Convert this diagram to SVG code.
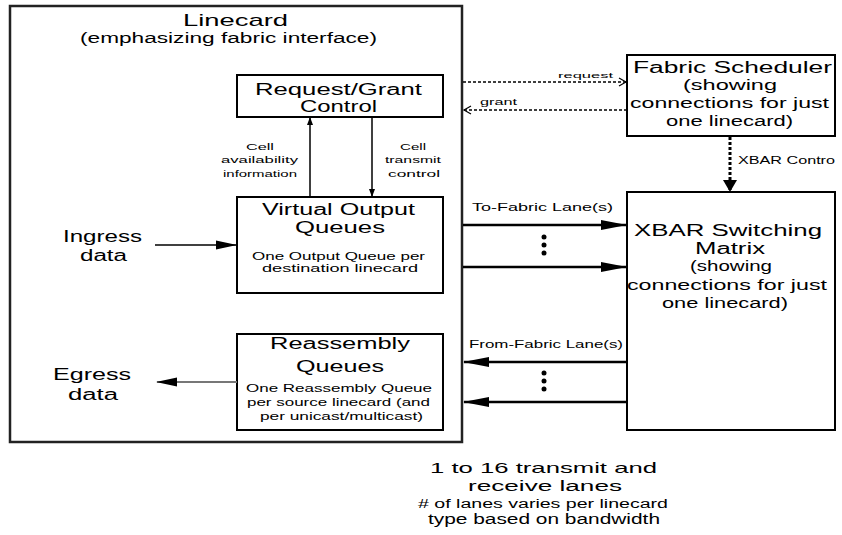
<svg xmlns="http://www.w3.org/2000/svg" width="842" height="535" viewBox="0 0 842 535">
<style>
text{font-family:"Liberation Sans",Arial,sans-serif;fill:#000}
.box{fill:#fff;stroke:#000;stroke-width:2}
.t{font-size:16px}
.s{font-size:14px}
.sm{font-size:10px}
.lbl{font-size:9px}
.ln{stroke:#000;stroke-width:1.5;fill:none}
.dash{stroke:#000;stroke-width:1.5;fill:none;stroke-dasharray:3,2}
.thick{stroke:#000;stroke-width:2.5;fill:none}
</style>
<defs>
<marker id="ah" markerWidth="8" markerHeight="8" refX="7" refY="4" orient="auto" markerUnits="userSpaceOnUse"><path d="M0,1L8,4L0,7z" fill="#000"/></marker>
<marker id="mid" markerWidth="21" markerHeight="10" refX="20" refY="5" orient="auto" markerUnits="userSpaceOnUse"><path d="M0,0.5L21,5L0,9.5z" fill="#000"/></marker>
<marker id="big" markerWidth="26" markerHeight="11" refX="25" refY="5.5" orient="auto" markerUnits="userSpaceOnUse"><path d="M0,0.5L26,5.5L0,10.5z" fill="#000"/></marker>
<marker id="tri" markerWidth="12" markerHeight="14" refX="11" refY="7" orient="auto" markerUnits="userSpaceOnUse"><path d="M0,0L12,7L0,14z" fill="#000"/></marker>
<marker id="open" markerWidth="10" markerHeight="10" refX="8" refY="5" orient="auto" markerUnits="userSpaceOnUse"><path d="M1,1L8,5L1,9" fill="none" stroke="#000" stroke-width="1.2"/></marker>
</defs>
<rect width="842" height="535" fill="#fff"/>
<g id="linecard">
<rect x="10" y="6" width="452" height="436" fill="#fff" stroke="#222" stroke-width="2.5"/>
<text x="183" y="26" style="font-size:17px" textLength="105" lengthAdjust="spacingAndGlyphs">Linecard</text>
<text x="80" y="43" style="font-size:14px" textLength="297" lengthAdjust="spacingAndGlyphs">(emphasizing fabric interface)</text>
</g>
<g id="rgc">
<rect x="237" y="75" width="206" height="42" class="box"/>
<text x="255" y="95" class="t" textLength="167" lengthAdjust="spacingAndGlyphs">Request/Grant</text>
<text x="300" y="112" class="t" textLength="77" lengthAdjust="spacingAndGlyphs">Control</text>
</g>
<g id="voq">
<rect x="237" y="197" width="206" height="96" class="box"/>
<text x="262" y="215" class="t" textLength="153" lengthAdjust="spacingAndGlyphs">Virtual Output</text>
<text x="295" y="233" class="t" textLength="90" lengthAdjust="spacingAndGlyphs">Queues</text>
<text x="252" y="260" class="sm" textLength="173" lengthAdjust="spacingAndGlyphs">One Output Queue per</text>
<text x="262" y="272" class="sm" textLength="156" lengthAdjust="spacingAndGlyphs">destination linecard</text>
</g>
<g id="rq">
<rect x="237" y="334" width="206" height="96" class="box"/>
<text x="270" y="349" class="t" textLength="140" lengthAdjust="spacingAndGlyphs">Reassembly</text>
<text x="296" y="372" class="t" textLength="88" lengthAdjust="spacingAndGlyphs">Queues</text>
<text x="246" y="392" class="sm" textLength="186" lengthAdjust="spacingAndGlyphs">One Reassembly Queue</text>
<text x="247" y="406" class="sm" textLength="183" lengthAdjust="spacingAndGlyphs">per source linecard (and</text>
<text x="260" y="420" class="sm" textLength="163" lengthAdjust="spacingAndGlyphs">per unicast/multicast)</text>
</g>
<g id="ingress">
<text x="63" y="242" class="t" textLength="79" lengthAdjust="spacingAndGlyphs">Ingress</text>
<text x="80" y="261" class="t" textLength="47" lengthAdjust="spacingAndGlyphs">data</text>
</g>
<g id="egress">
<text x="53" y="380" class="t" textLength="78" lengthAdjust="spacingAndGlyphs">Egress</text>
<text x="68" y="400" class="t" textLength="50" lengthAdjust="spacingAndGlyphs">data</text>
</g>
<g id="scheduler">
<rect x="627" y="55" width="208" height="81" class="box"/>
<text x="633" y="73" class="t" textLength="199" lengthAdjust="spacingAndGlyphs">Fabric Scheduler</text>
<text x="683" y="90" class="s" textLength="94" lengthAdjust="spacingAndGlyphs">(showing</text>
<text x="630" y="108" class="s" textLength="199" lengthAdjust="spacingAndGlyphs">connections for just</text>
<text x="666" y="126" class="s" textLength="127" lengthAdjust="spacingAndGlyphs">one linecard)</text>
</g>
<g id="xbar">
<rect x="627" y="192" width="208" height="238" class="box"/>
<text x="634" y="236" class="t" textLength="188" lengthAdjust="spacingAndGlyphs">XBAR Switching</text>
<text x="695" y="254" class="t" textLength="70" lengthAdjust="spacingAndGlyphs">Matrix</text>
<text x="690" y="271" class="s" textLength="82" lengthAdjust="spacingAndGlyphs">(showing</text>
<text x="627" y="290" class="s" textLength="200" lengthAdjust="spacingAndGlyphs">connections for just</text>
<text x="662" y="308" class="s" textLength="126" lengthAdjust="spacingAndGlyphs">one linecard)</text>
</g>
<g id="note">
<text x="430" y="473" style="font-size:15px" textLength="227" lengthAdjust="spacingAndGlyphs">1 to 16 transmit and</text>
<text x="468" y="491" style="font-size:14px" textLength="154" lengthAdjust="spacingAndGlyphs">receive lanes</text>
<text x="418" y="508" style="font-size:12px" textLength="250" lengthAdjust="spacingAndGlyphs"># of lanes varies per linecard</text>
<text x="428" y="524" style="font-size:14px" textLength="232" lengthAdjust="spacingAndGlyphs">type based on bandwidth</text>
</g>
<g id="connectors">
<line x1="310" y1="197" x2="310" y2="118" class="ln" marker-end="url(#ah)"/>
<line x1="372" y1="117" x2="372" y2="196" class="ln" marker-end="url(#ah)"/>
<text x="246" y="150" class="lbl" textLength="28" lengthAdjust="spacingAndGlyphs">Cell</text>
<text x="221" y="163" class="lbl" textLength="77" lengthAdjust="spacingAndGlyphs">availability</text>
<text x="223" y="177" class="lbl" textLength="74" lengthAdjust="spacingAndGlyphs">information</text>
<text x="400" y="150" class="lbl" textLength="26" lengthAdjust="spacingAndGlyphs">Cell</text>
<text x="385" y="163" class="lbl" textLength="56" lengthAdjust="spacingAndGlyphs">transmit</text>
<text x="388" y="177" class="lbl" textLength="52" lengthAdjust="spacingAndGlyphs">control</text>
<line x1="155" y1="245" x2="236" y2="245" class="ln" marker-end="url(#mid)"/>
<line x1="237" y1="382" x2="157" y2="382" stroke="#777" stroke-width="2" marker-end="url(#mid)"/>
<line x1="463" y1="82" x2="626" y2="82" class="dash" marker-end="url(#open)"/>
<text x="558" y="78" class="lbl" style="font-size:8px" textLength="55" lengthAdjust="spacingAndGlyphs">request</text>
<line x1="627" y1="110" x2="464" y2="110" class="dash" marker-end="url(#open)"/>
<text x="480" y="105" class="lbl" textLength="37" lengthAdjust="spacingAndGlyphs">grant</text>
<line x1="730" y1="137" x2="730" y2="191" stroke="#000" stroke-width="3" stroke-dasharray="3,2" marker-end="url(#tri)"/>
<text x="738" y="164" style="font-size:10px" textLength="97" lengthAdjust="spacingAndGlyphs">XBAR Contro</text>
<line x1="463" y1="225" x2="626" y2="225" class="thick" marker-end="url(#big)"/>
<line x1="463" y1="267" x2="626" y2="267" class="thick" marker-end="url(#big)"/>
<text x="472" y="211" style="font-size:11px" textLength="141" lengthAdjust="spacingAndGlyphs">To-Fabric Lane(s)</text>
<circle cx="544" cy="237" r="2.5"/><circle cx="544" cy="245" r="2.5"/><circle cx="544" cy="253" r="2.5"/>
<line x1="627" y1="362" x2="464" y2="362" class="thick" marker-end="url(#big)"/>
<line x1="627" y1="402" x2="464" y2="402" class="thick" marker-end="url(#big)"/>
<text x="469" y="348" style="font-size:11px" textLength="154" lengthAdjust="spacingAndGlyphs">From-Fabric Lane(s)</text>
<circle cx="544" cy="373" r="2.5"/><circle cx="544" cy="381" r="2.5"/><circle cx="544" cy="389" r="2.5"/>
</g>
</svg>
